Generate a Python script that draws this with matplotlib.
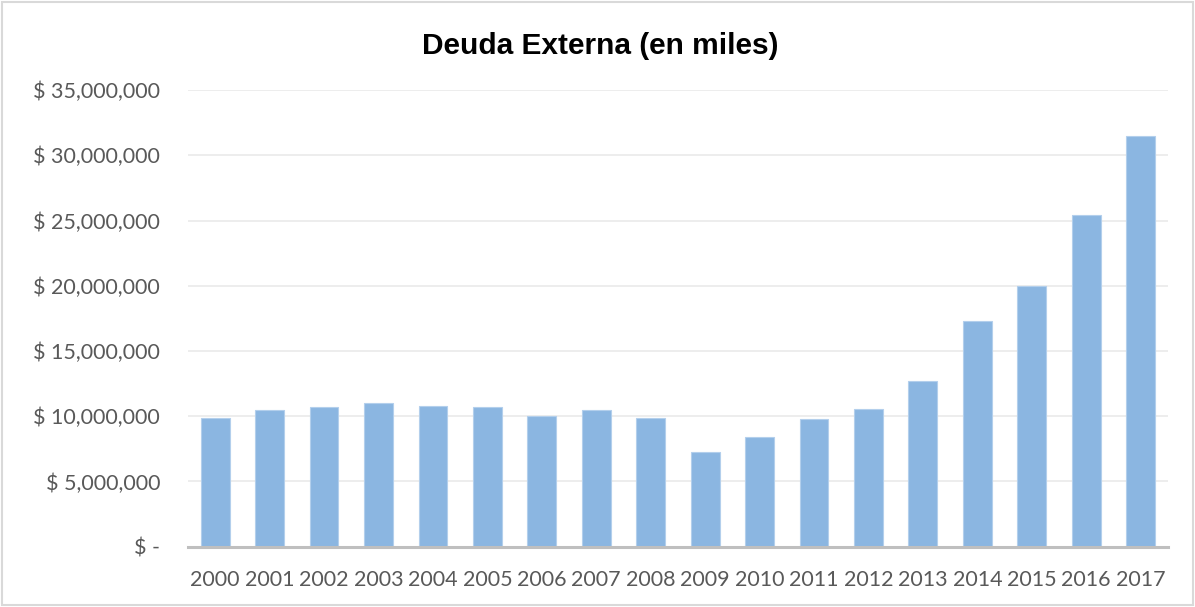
import matplotlib

matplotlib.use("Agg")
import matplotlib.pyplot as plt
from matplotlib.patches import Rectangle
from matplotlib.ticker import FuncFormatter

# ----------------------------------------------------------------------
# Data (deuda externa, en miles)
# ----------------------------------------------------------------------
YEARS = [str(y) for y in range(2000, 2018)]
DEUDA = [
    9870000, 10460000, 10670000, 11050000, 10770000, 10670000,
    10000000, 10460000, 9870000, 7240000, 8390000, 9780000,
    10570000, 12700000, 17320000, 20000000, 25400000, 31480000,
]
Y_TICKS = [0, 5000000, 10000000, 15000000, 20000000, 25000000, 30000000, 35000000]

TITLE = "Deuda Externa (en miles)"
BAR_COLOR = "#8bb6e1"
TEXT_GRAY = "#595959"


def money(v, _pos):
    if v == 0:
        return "$ -"
    return f"$ {v:,.0f}"


fig = plt.figure(figsize=(11.95, 6.07), dpi=100)
fig.patch.set_facecolor("white")
fig.patches.append(
    Rectangle((0.002, 0.003), 0.996, 0.994, transform=fig.transFigure,
              fill=False, edgecolor="#d9d9d9", linewidth=1.5)
)

ax = fig.add_axes([0.1573, 0.0993, 0.820, 0.7524])
x = range(len(YEARS))
ax.bar(x, DEUDA, width=0.53, color=BAR_COLOR, edgecolor="#b3cfec",
       linewidth=0.8, zorder=3)

ax.set_xlim(-0.5, len(YEARS) - 0.5)
ax.set_ylim(0, Y_TICKS[-1])
ax.set_yticks(Y_TICKS)
ax.yaxis.set_major_formatter(FuncFormatter(money))
ax.set_xticks(list(x))
ax.set_xticklabels(YEARS)

for side in ("top", "right", "left"):
    ax.spines[side].set_visible(False)
ax.spines["bottom"].set_color("#bfbfbf")
ax.spines["bottom"].set_linewidth(2.2)
ax.spines["bottom"].set_zorder(4)

ax.grid(True, axis="y", color="#ececec", linewidth=1.3, zorder=0)
ax.set_axisbelow(True)
ax.tick_params(axis="both", length=0, labelcolor=TEXT_GRAY, labelsize=15.5)
ax.tick_params(axis="y", pad=20)
ax.tick_params(axis="x", pad=17)
for lbl in ax.get_xticklabels() + ax.get_yticklabels():
    lbl.set_family("Lato")

fig.text(0.502, 0.924, TITLE, ha="center", va="center", fontsize=21.5,
         fontweight="bold", family="Liberation Sans", color="black")

fig.savefig("out.png", dpi=100, facecolor="white")
